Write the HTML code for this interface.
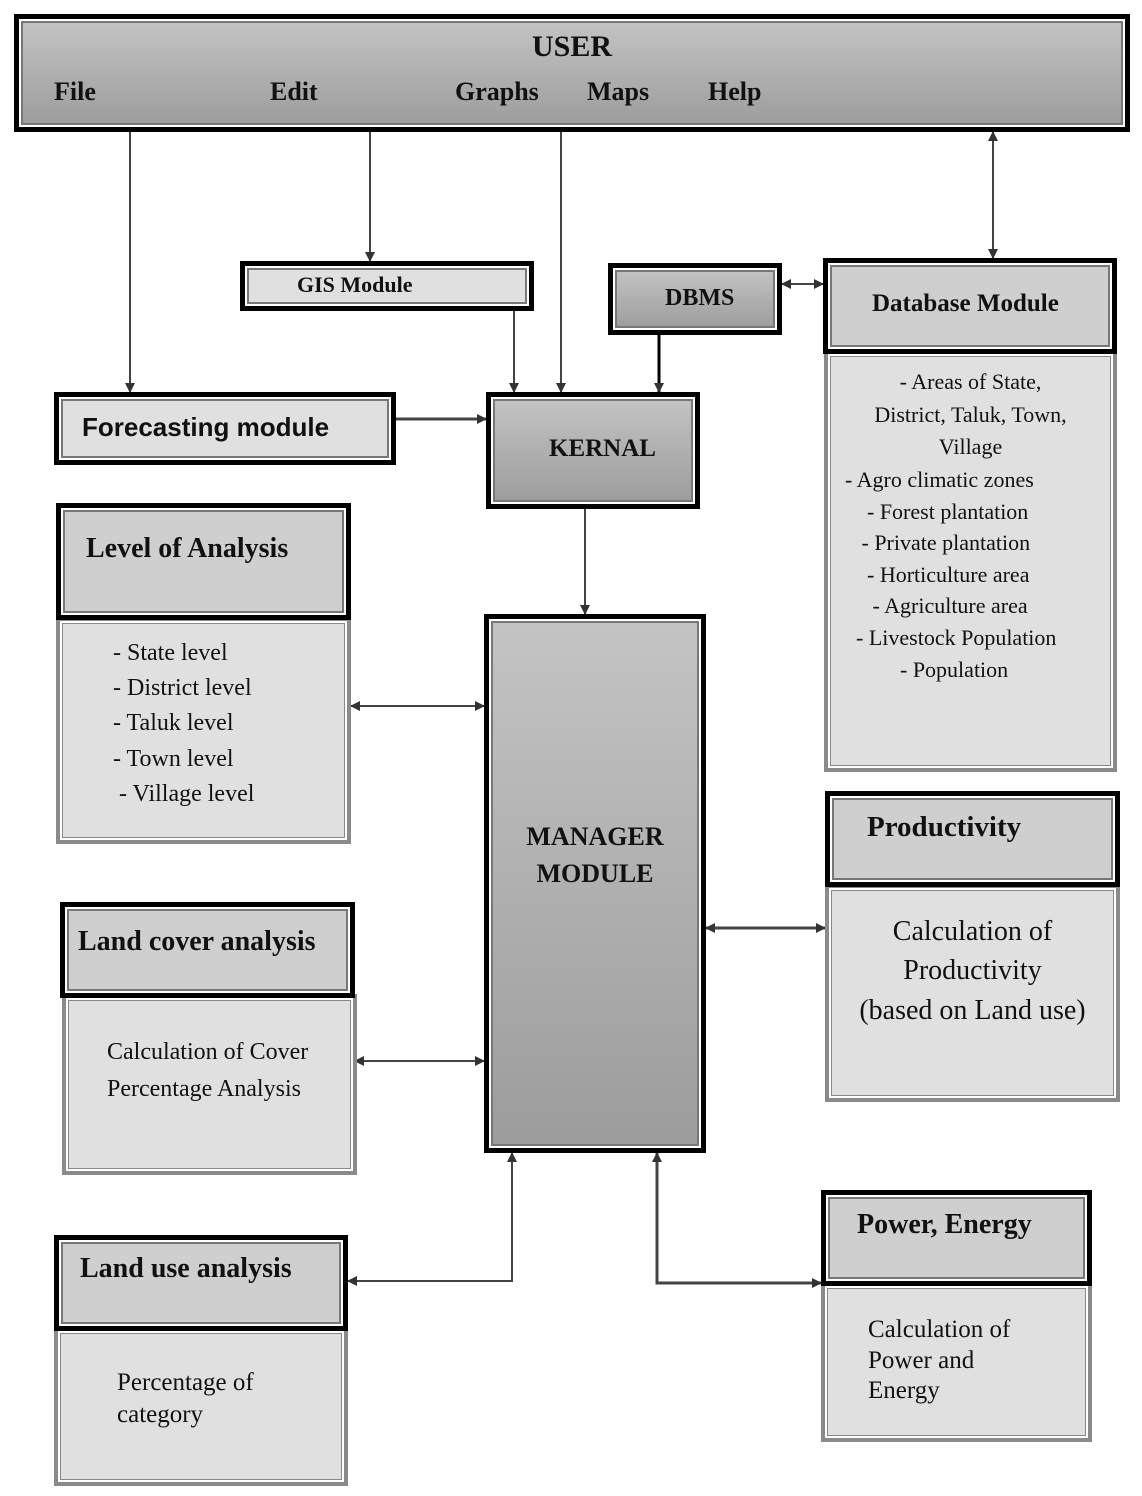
<!DOCTYPE html>
<html><head><meta charset="utf-8"><style>
*{box-sizing:border-box;margin:0;padding:0}
body{width:1142px;height:1496px;background:#fff;position:relative;overflow:hidden;font-family:"Liberation Serif",serif;color:#111}
.b{position:absolute}
.hb{border:5px solid #000;box-shadow:inset 0 0 0 2px #fff,inset 0 0 0 4px #777;z-index:2}
.bb{border:4px solid #8a8a8a;box-shadow:inset 0 0 0 2px #fff,inset 0 0 0 3px #888;background:#e0e0e0;z-index:1}
.g{background:linear-gradient(#c4c4c4,#9c9c9c)}
.l{background:#e0e0e0}.m{background:#cfcfcf}
.t{position:absolute;z-index:3;white-space:nowrap}
.bd{font-weight:bold}
.h{font-size:26px;font-weight:bold}
.r{font-size:22px}
svg{position:absolute;left:0;top:0;z-index:0}
</style></head><body>
<svg width="1142" height="1496">
<defs><marker id="a" markerWidth="10" markerHeight="10" refX="9" refY="5" orient="auto-start-reverse" markerUnits="userSpaceOnUse"><path d="M0,0 L10,5 L0,10z" fill="#333"/></marker></defs>
<g stroke="#444" stroke-width="2" fill="none">
<path d="M130 132V392" marker-end="url(#a)"/>
<path d="M370 132V261" marker-end="url(#a)"/>
<path d="M561 132V392" marker-end="url(#a)"/>
<path d="M514 311V392" marker-end="url(#a)"/>
<path d="M659 335V392" marker-end="url(#a)" stroke="#000" stroke-width="3"/>
<path d="M993 132V258" marker-start="url(#a)" marker-end="url(#a)"/>
<path d="M782 284H823" marker-start="url(#a)" marker-end="url(#a)"/>
<path d="M396 419H486" marker-end="url(#a)" stroke-width="3"/>
<path d="M585 509V614" marker-end="url(#a)"/>
<path d="M351 706H484" marker-start="url(#a)" marker-end="url(#a)"/>
<path d="M355 1061H484" marker-start="url(#a)" marker-end="url(#a)"/>
<path d="M706 928H825" marker-start="url(#a)" marker-end="url(#a)" stroke-width="3"/>
<path d="M512 1153V1281H348" marker-start="url(#a)" marker-end="url(#a)"/>
<path d="M657 1153V1283H821" marker-start="url(#a)" marker-end="url(#a)" stroke-width="3"/>
</g></svg>

<div class="b hb g" style="left:14px;top:14px;width:1116px;height:118px"></div>
<div class="t h" style="left:532px;top:30px;font-size:30px">USER</div>
<div class="t h" style="left:54px;top:77px">File</div>
<div class="t h" style="left:270px;top:77px">Edit</div>
<div class="t h" style="left:455px;top:77px">Graphs</div>
<div class="t h" style="left:587px;top:77px">Maps</div>
<div class="t h" style="left:708px;top:77px">Help</div>

<div class="b hb l" style="left:240px;top:261px;width:294px;height:50px"></div>
<div class="t bd" style="left:297px;top:272px;font-size:22px">GIS Module</div>

<div class="b hb g" style="left:608px;top:263px;width:174px;height:72px"></div>
<div class="t h" style="left:665px;top:285px;font-size:24px">DBMS</div>

<div class="b hb m" style="left:823px;top:258px;width:294px;height:96px"></div>
<div class="t h" style="left:872px;top:290px;font-size:25px">Database Module</div>
<div class="b bb" style="left:824px;top:350px;width:293px;height:422px"></div>
<div class="t r" style="left:824px;width:293px;top:366px;text-align:center;line-height:32.5px;white-space:normal">- Areas of State,<br>District, Taluk, Town,<br>Village</div>
<div class="t r" style="left:845px;top:464px;line-height:31.6px">- Agro climatic zones<br>&nbsp;&nbsp;&nbsp;&nbsp;- Forest plantation<br>&nbsp;&nbsp;&nbsp;- Private plantation<br>&nbsp;&nbsp;&nbsp;&nbsp;- Horticulture area<br>&nbsp;&nbsp;&nbsp;&nbsp;&nbsp;- Agriculture area<br>&nbsp;&nbsp;- Livestock Population<br>&nbsp;&nbsp;&nbsp;&nbsp;&nbsp;&nbsp;&nbsp;&nbsp;&nbsp;&nbsp;- Population</div>

<div class="b hb l" style="left:54px;top:392px;width:342px;height:73px"></div>
<div class="t bd" style="left:82px;top:412px;font-size:26px;font-family:'Liberation Sans',sans-serif">Forecasting module</div>

<div class="b hb g" style="left:486px;top:392px;width:214px;height:117px"></div>
<div class="t h" style="left:549px;top:435px;font-size:25px">KERNAL</div>

<div class="b hb m" style="left:56px;top:503px;width:295px;height:117px"></div>
<div class="t h" style="left:86px;top:533px;font-size:28px">Level of Analysis</div>
<div class="b bb" style="left:56px;top:617px;width:295px;height:227px"></div>
<div class="t r" style="left:113px;top:636px;line-height:35.2px;font-size:24px">- State level<br>- District level<br>- Taluk level<br>- Town level<br>&nbsp;- Village level</div>

<div class="b hb g" style="left:484px;top:614px;width:222px;height:539px"></div>
<div class="t h" style="left:484px;width:222px;top:818px;text-align:center;line-height:37px;font-size:26px">MANAGER<br>MODULE</div>

<div class="b hb m" style="left:825px;top:791px;width:295px;height:96px"></div>
<div class="t h" style="left:867px;top:811px;font-size:29px">Productivity</div>
<div class="b bb" style="left:825px;top:884px;width:295px;height:218px"></div>
<div class="t" style="left:825px;width:295px;top:912px;text-align:center;font-size:28px;line-height:39.3px">Calculation of<br>Productivity<br>(based on Land use)</div>

<div class="b hb m" style="left:60px;top:902px;width:295px;height:96px"></div>
<div class="t h" style="left:78px;top:926px;font-size:28px">Land cover analysis</div>
<div class="b bb" style="left:62px;top:994px;width:295px;height:181px"></div>
<div class="t" style="left:107px;top:1034px;font-size:24px;line-height:36.5px">Calculation of Cover<br>Percentage Analysis</div>

<div class="b hb m" style="left:54px;top:1235px;width:294px;height:96px"></div>
<div class="t h" style="left:80px;top:1253px;font-size:28px">Land use analysis</div>
<div class="b bb" style="left:54px;top:1327px;width:294px;height:159px"></div>
<div class="t" style="left:117px;top:1367px;font-size:25px;line-height:32px">Percentage of<br>category</div>

<div class="b hb m" style="left:821px;top:1190px;width:271px;height:96px"></div>
<div class="t h" style="left:857px;top:1209px;font-size:28px">Power, Energy</div>
<div class="b bb" style="left:821px;top:1282px;width:271px;height:160px"></div>
<div class="t" style="left:868px;top:1315px;font-size:25px;line-height:30.5px">Calculation of<br>Power and<br>Energy</div>
</body></html>
